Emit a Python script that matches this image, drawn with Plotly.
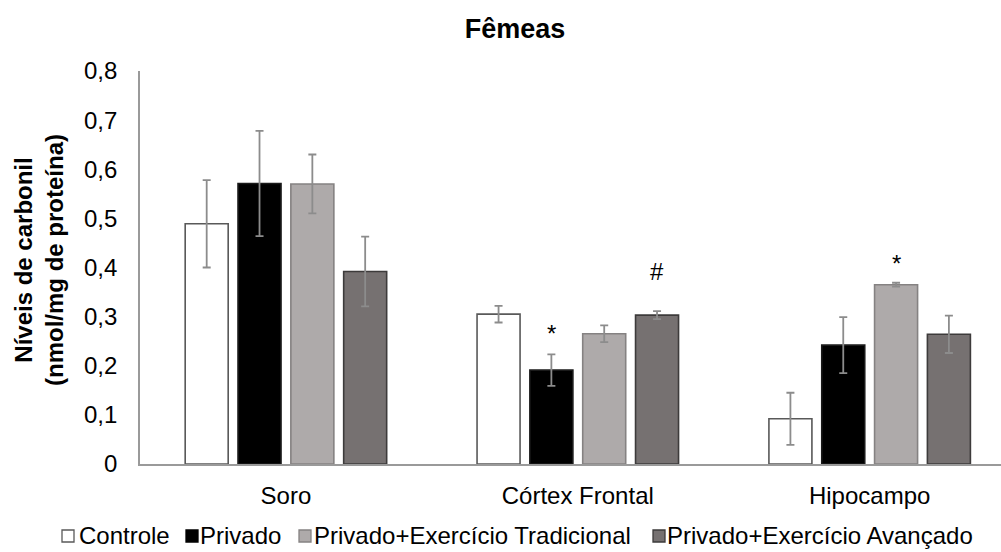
import plotly.graph_objects as go

# Carbonyl levels (nmol/mg protein) per tissue and group
categories = ["Soro", "Córtex Frontal", "Hipocampo"]
series_names = [
    "Controle",
    "Privado",
    "Privado+Exercício Tradicional",
    "Privado+Exercício Avançado",
]
controle = [0.489, 0.305, 0.092]
privado = [0.571, 0.191, 0.242]
priv_ex_trad = [0.570, 0.265, 0.365]
priv_ex_avan = [0.392, 0.303, 0.264]

controle_err = [0.089, 0.017, 0.053]
privado_err = [0.107, 0.032, 0.057]
priv_ex_trad_err = [0.060, 0.017, 0.004]
priv_ex_avan_err = [0.071, 0.008, 0.038]

# Significance marks: (category index, series index, label, y)
marks = [
    (1, 1, "*", 0.265),
    (1, 3, "#", 0.391),
    (2, 2, "*", 0.409),
]

values = [controle, privado, priv_ex_trad, priv_ex_avan]
errors = [controle_err, privado_err, priv_ex_trad_err, priv_ex_avan_err]
fills = ["#FFFFFF", "#000000", "#AEAAAA", "#767171"]
edges = ["#595959", "#1a1a1a", "#858282", "#3d3b3b"]

FONT = "Liberation Sans, Arial, sans-serif"
BARGAP = 0.276
BARGROUPGAP = 0.186

W, H = 1001, 552
ML, MR, MT, MB = 140, 0, 71, 88
PW, PH = W - ML - MR, H - MT - MB


def px_x(px):
    """Pixel column -> paper x."""
    return (px - ML) / PW


def px_y(py):
    """Pixel row -> paper y."""
    return (H - MB - py) / PH


fig = go.Figure()
for name, vals, errs, fc, ec in zip(series_names, values, errors, fills, edges):
    fig.add_trace(
        go.Bar(
            name=name,
            x=categories,
            y=vals,
            showlegend=False,
            marker=dict(color=fc, line=dict(color=ec, width=1.6)),
            error_y=dict(
                type="data",
                array=errs,
                visible=True,
                color="#8c8c8c",
                thickness=1.8,
                width=4,
            ),
        )
    )

slot = (1 - BARGAP) / len(series_names)
for cat_i, ser_i, label, yv in marks:
    xpos = cat_i + (ser_i - (len(series_names) - 1) / 2) * slot
    fig.add_annotation(
        x=xpos,
        y=yv,
        xref="x",
        yref="y",
        text=label,
        showarrow=False,
        font=dict(family=FONT, size=24, color="#000000"),
        xanchor="center",
        yanchor="middle",
    )

# Two-line y axis title
fig.add_annotation(
    x=px_x(39),
    y=px_y(260),
    xref="paper",
    yref="paper",
    text="<b>Níveis de carbonil<br>(nmol/mg de proteína)</b>",
    textangle=-90,
    showarrow=False,
    font=dict(family=FONT, size=24, color="#000000"),
    xanchor="center",
    yanchor="middle",
)

# Legend row: swatch squares followed by their labels
legend_swatch_left = [62, 186, 299, 653]
legend_text_left = [78, 199, 313, 666]
sw = 12
ly = 535
for name, fc, ec, sx, tx in zip(series_names, fills, edges, legend_swatch_left, legend_text_left):
    fig.add_shape(
        type="rect",
        xref="paper",
        yref="paper",
        x0=px_x(sx),
        x1=px_x(sx + sw),
        y0=px_y(ly + 1 - sw / 2),
        y1=px_y(ly + 1 + sw / 2),
        fillcolor=fc,
        line=dict(color=ec if fc != "#000000" else "#000000", width=1.3),
    )
    fig.add_annotation(
        x=px_x(tx),
        y=px_y(ly),
        xref="paper",
        yref="paper",
        text=name,
        showarrow=False,
        font=dict(family=FONT, size=24, color="#000000"),
        xanchor="left",
        yanchor="middle",
        borderpad=0,
    )

fig.update_layout(
    width=W,
    height=H,
    margin=dict(l=ML, r=MR, t=MT, b=MB),
    paper_bgcolor="#FFFFFF",
    plot_bgcolor="#FFFFFF",
    showlegend=False,
    barmode="group",
    bargap=BARGAP,
    bargroupgap=BARGROUPGAP,
    font=dict(family=FONT, size=24, color="#000000"),
    title=dict(
        text="<b>Fêmeas</b>",
        x=515 / W,
        xref="container",
        xanchor="center",
        y=1 - 29 / H,
        yref="container",
        yanchor="middle",
        font=dict(family=FONT, size=27, color="#000000"),
    ),
    xaxis=dict(
        range=[-0.5, 2.45],
        showline=True,
        linecolor="#9a9a9a",
        linewidth=1.6,
        ticks="",
        showgrid=False,
        zeroline=False,
        ticklabelstandoff=9,
        tickfont=dict(family=FONT, size=24, color="#000000"),
    ),
    yaxis=dict(
        range=[0, 0.8],
        tickvals=[0, 0.1, 0.2, 0.3, 0.4, 0.5, 0.6, 0.7, 0.8],
        ticktext=["0", "0,1", "0,2", "0,3", "0,4", "0,5", "0,6", "0,7", "0,8"],
        showline=True,
        linecolor="#9a9a9a",
        linewidth=1.6,
        ticks="",
        showgrid=False,
        zeroline=False,
        ticklabelstandoff=16,
        tickfont=dict(family=FONT, size=24, color="#000000"),
    ),
)

fig.write_html("out.html")
